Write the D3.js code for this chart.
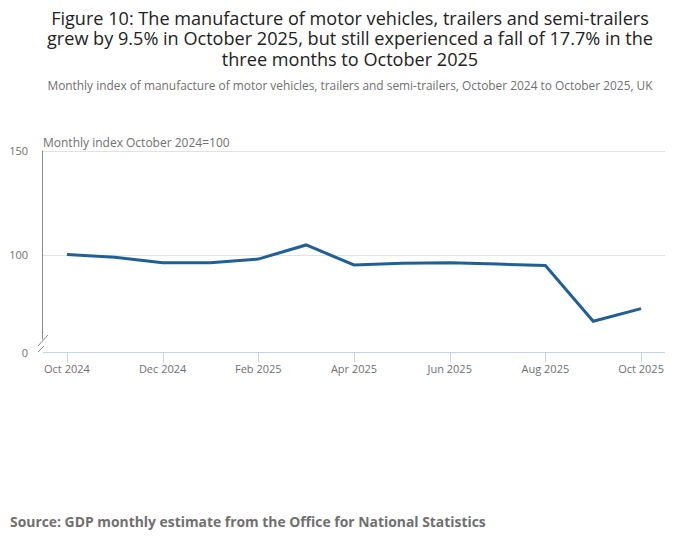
<!DOCTYPE html>
<html><head><meta charset="utf-8">
<script src="https://cdn.jsdelivr.net/npm/d3@7"></script>
<style>body{margin:0;background:#fff;font-family:"Open Sans",sans-serif;}</style>
</head><body>
<svg id="c" width="700" height="549"></svg>
<script>
const months = ["Oct 2024","Nov 2024","Dec 2024","Jan 2025","Feb 2025","Mar 2025","Apr 2025","May 2025","Jun 2025","Jul 2025","Aug 2025","Sep 2025","Oct 2025"];
const values = [100, 98.7, 96.0, 96.0, 97.8, 104.6, 95.0, 95.8, 96.0, 95.4, 94.7, 67.9, 74.0];
const xTickLabels = ["Oct 2024","Dec 2024","Feb 2025","Apr 2025","Jun 2025","Aug 2025","Oct 2025"];
const yTicks = [100, 150];
const yBreakLabel = "0";
const titleLines = ["Figure 10: The manufacture of motor vehicles, trailers and semi-trailers","grew by 9.5% in October 2025, but still experienced a fall of 17.7% in the","three months to October 2025"];
const subtitle = "Monthly index of manufacture of motor vehicles, trailers and semi-trailers, October 2024 to October 2025, UK";
const yLabel = "Monthly index October 2024=100";
const source = "Source: GDP monthly estimate from the Office for National Statistics";

const svg = d3.select("#c");
const L = 43, R = 665, T = 150.5, B = 352.5;
const x = d3.scalePoint().domain(months).range([L, R]).padding(0.5);
const y = d3.scaleLinear().domain([52.9, 150]).range([B, T]);

// title as one text block
svg.append("text").attr("text-anchor","middle").attr("font-size",18.1).attr("fill","#222")
  .selectAll("tspan").data(titleLines).join("tspan")
  .attr("x",350).attr("y",(d,i)=>24.5 + i*20.5).text(d=>d);
svg.append("text").attr("x",350).attr("y",89.5).attr("text-anchor","middle")
  .attr("font-size",11.9).attr("fill","#707070").text(subtitle);

// gridlines
svg.append("g").selectAll("line").data(yTicks).join("line")
  .attr("x1",L).attr("x2",R).attr("y1",d=>Math.round(y(d))+0.5).attr("y2",d=>Math.round(y(d))+0.5)
  .attr("stroke","#e2e2e2").attr("stroke-width",1);

// y tick labels
const yl = svg.append("g").attr("font-size",11).attr("fill","#707070").attr("text-anchor","end");
yl.selectAll("text").data(yTicks).join("text").attr("x",28).attr("y",d=>y(d)+4).text(d=>d);
yl.append("text").attr("x",28).attr("y",B+4).text(yBreakLabel);

// y axis line with break
svg.append("line").attr("x1",L-0.5).attr("x2",L-0.5).attr("y1",T).attr("y2",B-13).attr("stroke","#888").attr("stroke-width",1);
svg.append("line").attr("x1",38).attr("x2",48).attr("y1",346).attr("y2",335).attr("stroke","#888").attr("stroke-width",1);
svg.append("line").attr("x1",38).attr("x2",44).attr("y1",352).attr("y2",346).attr("stroke","#888").attr("stroke-width",1);

// x axis baseline
svg.append("line").attr("x1",L).attr("x2",R).attr("y1",B).attr("y2",B).attr("stroke","#c4d4ea").attr("stroke-width",1);
svg.append("g").selectAll("line").data(xTickLabels).join("line")
  .attr("x1",d=>Math.round(x(d))+0.5).attr("x2",d=>Math.round(x(d))+0.5).attr("y1",B).attr("y2",B+10)
  .attr("stroke","#c4d4ea");
svg.append("g").attr("font-size",11).attr("fill","#707070").attr("text-anchor","middle")
  .selectAll("text").data(xTickLabels).join("text").attr("x",d=>x(d)).attr("y",B+20).text(d=>d);

// y label
svg.append("text").attr("x",L).attr("y",147).attr("font-size",12).attr("fill","#707070").text(yLabel);

// line
const line = d3.line().x((d,i)=>x(months[i])).y(d=>y(d));
svg.append("path").datum(values).attr("d",line).attr("fill","none")
  .attr("stroke","#206095").attr("stroke-width",3).attr("stroke-linejoin","miter");

// source
svg.append("text").attr("x",10).attr("y",527).attr("font-size",13.9).attr("font-weight","bold")
  .attr("fill","#707070").text(source);
</script>
</body></html>
